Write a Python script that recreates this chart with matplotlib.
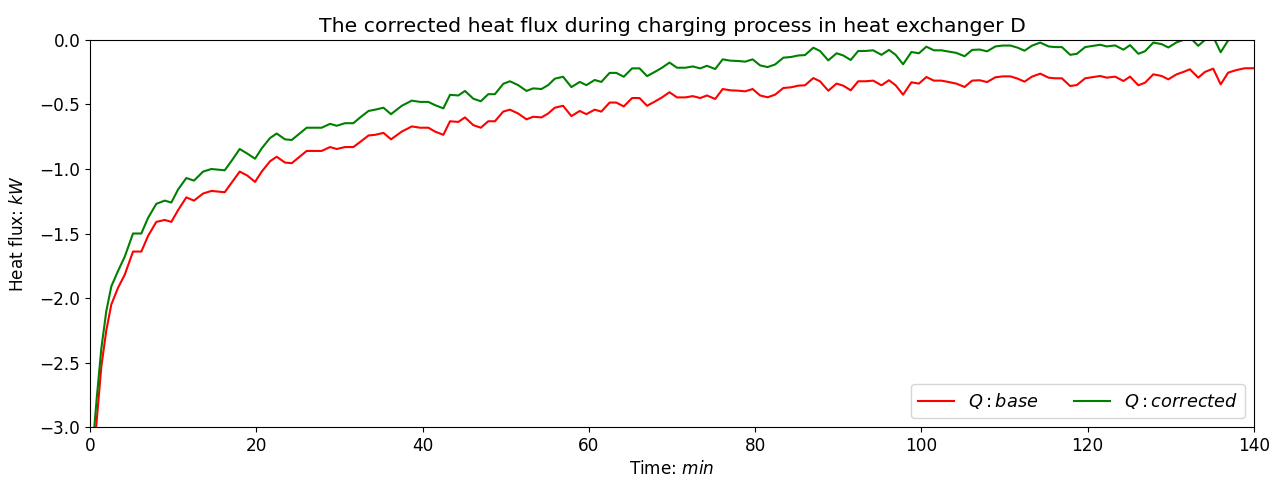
import matplotlib
matplotlib.use("Agg")
import matplotlib.pyplot as plt

plt.rcParams["font.size"] = 12.2

t = [0.0, 0.8, 1.36, 1.96, 2.56, 3.37, 4.17, 5.17, 6.17, 6.97, 7.97, 8.98, 9.78,
     10.58, 11.58, 12.5, 13.6, 14.6, 16.2, 17.1, 18.0, 18.9, 19.85, 20.65, 21.65,
     22.45, 23.45, 24.26, 25.3, 26.06, 27.06, 27.86, 28.87, 29.67, 30.67, 31.67,
     32.5, 33.5, 34.3, 35.3, 36.2, 37.5, 38.7, 39.7, 40.7, 41.5, 42.5, 43.3, 44.3,
     45.1, 46.1, 47.0, 47.9, 48.7, 49.7, 50.5, 51.5, 52.5, 53.3, 54.3, 55.1, 55.9,
     56.9, 57.9, 58.9, 59.7, 60.7, 61.5, 62.5, 63.3, 64.2, 65.2, 66.1, 67.0, 68.0,
     68.8, 69.7, 70.6, 71.6, 72.5, 73.4, 74.2, 75.2, 76.1, 77.0, 78.0, 78.8, 79.7,
     80.6, 81.5, 82.4, 83.4, 84.3, 85.2, 86.0, 87.0, 87.8, 88.8, 89.8, 90.6, 91.5,
     92.4, 93.3, 94.2, 95.2, 96.1, 96.9, 97.8, 98.8, 99.7, 100.6, 101.5, 102.4,
     103.3, 104.2, 105.2, 106.1, 107.0, 107.9, 108.9, 109.8, 110.7, 111.6, 112.4,
     113.3, 114.3, 115.3, 116.1, 116.9, 117.9, 118.7, 119.7, 120.7, 121.5, 122.3,
     123.3, 124.3, 125.1, 126.1, 126.9, 127.9, 128.9, 129.7, 130.7, 131.5, 132.3,
     133.3, 134.1, 135.1, 136.0, 136.9, 137.9, 138.9, 139.9]

q_base = [-3.6, -2.95, -2.53, -2.25, -2.05, -1.92, -1.82, -1.64, -1.64, -1.52, -1.41,
          -1.395, -1.41, -1.32, -1.22, -1.245, -1.19, -1.17, -1.18, -1.10, -1.02, -1.05,
          -1.10, -1.02, -0.94, -0.905, -0.95, -0.955, -0.90, -0.86, -0.86, -0.86, -0.83,
          -0.845, -0.83, -0.83, -0.79, -0.74, -0.735, -0.72, -0.77, -0.71, -0.67, -0.68,
          -0.68, -0.71, -0.735, -0.63, -0.635, -0.60, -0.66, -0.68, -0.63, -0.63, -0.555,
          -0.54, -0.57, -0.615, -0.595, -0.60, -0.57, -0.525, -0.51, -0.59, -0.55, -0.575,
          -0.54, -0.555, -0.485, -0.485, -0.515, -0.45, -0.45, -0.51, -0.475, -0.445,
          -0.405, -0.445, -0.445, -0.435, -0.45, -0.43, -0.457, -0.38, -0.39, -0.393,
          -0.398, -0.38, -0.43, -0.444, -0.424, -0.372, -0.367, -0.354, -0.351, -0.295,
          -0.32, -0.393, -0.338, -0.354, -0.39, -0.32, -0.32, -0.315, -0.351, -0.312,
          -0.351, -0.424, -0.328, -0.338, -0.287, -0.315, -0.315, -0.326, -0.338, -0.364,
          -0.315, -0.312, -0.326, -0.289, -0.282, -0.282, -0.30, -0.323, -0.284, -0.261,
          -0.292, -0.297, -0.297, -0.357, -0.349, -0.297, -0.287, -0.279, -0.292, -0.284,
          -0.318, -0.284, -0.351, -0.331, -0.266, -0.279, -0.305, -0.266, -0.248, -0.227,
          -0.292, -0.248, -0.222, -0.344, -0.253, -0.233, -0.219, -0.219]

q_corrected = [-3.4, -2.78, -2.39, -2.10, -1.91, -1.79, -1.68, -1.50, -1.50, -1.38, -1.27,
               -1.245, -1.26, -1.16, -1.07, -1.09, -1.02, -1.00, -1.01, -0.93, -0.845, -0.88,
               -0.92, -0.84, -0.76, -0.725, -0.77, -0.775, -0.72, -0.68, -0.68, -0.68, -0.65,
               -0.665, -0.645, -0.645, -0.60, -0.55, -0.54, -0.525, -0.575, -0.51, -0.47,
               -0.48, -0.48, -0.505, -0.53, -0.425, -0.43, -0.395, -0.455, -0.475, -0.42,
               -0.42, -0.34, -0.32, -0.35, -0.395, -0.375, -0.38, -0.35, -0.30, -0.285,
               -0.365, -0.325, -0.35, -0.31, -0.325, -0.255, -0.255, -0.285, -0.22, -0.22,
               -0.28, -0.245, -0.215, -0.175, -0.215, -0.215, -0.205, -0.22, -0.20, -0.225,
               -0.15, -0.16, -0.163, -0.168, -0.15, -0.197, -0.21, -0.19, -0.137, -0.132,
               -0.12, -0.117, -0.06, -0.085, -0.158, -0.103, -0.12, -0.155, -0.085, -0.085,
               -0.08, -0.115, -0.077, -0.115, -0.188, -0.093, -0.103, -0.052, -0.08, -0.08,
               -0.09, -0.10, -0.126, -0.077, -0.074, -0.088, -0.05, -0.043, -0.043, -0.06,
               -0.083, -0.044, -0.02, -0.05, -0.055, -0.055, -0.115, -0.107, -0.055, -0.045,
               -0.037, -0.05, -0.042, -0.075, -0.04, -0.107, -0.087, -0.02, -0.032, -0.058,
               -0.018, 0.0, 0.02, -0.045, 0.0, 0.025, -0.095, -0.003, 0.015, 0.03, 0.03]

fig = plt.figure(figsize=(12.79, 4.83), dpi=100)
ax = fig.add_axes([0.0704, 0.1159, 0.91, 0.8013])
ax.plot(t, q_base, color="red", label="$Q: base$")
ax.plot(t, q_corrected, color="green", label="$Q: corrected$")
ax.set_xlim(0, 140)
ax.set_ylim(-3.0, 0.0)
ax.set_xlabel("Time: $min$")
ax.set_ylabel("Heat flux: $kW$", labelpad=9)
ax.set_title("The corrected heat flux during charging process in heat exchanger D")
ax.legend(loc="lower right", ncol=2, fontsize=12.8)
fig.savefig("out.png", dpi=100)
